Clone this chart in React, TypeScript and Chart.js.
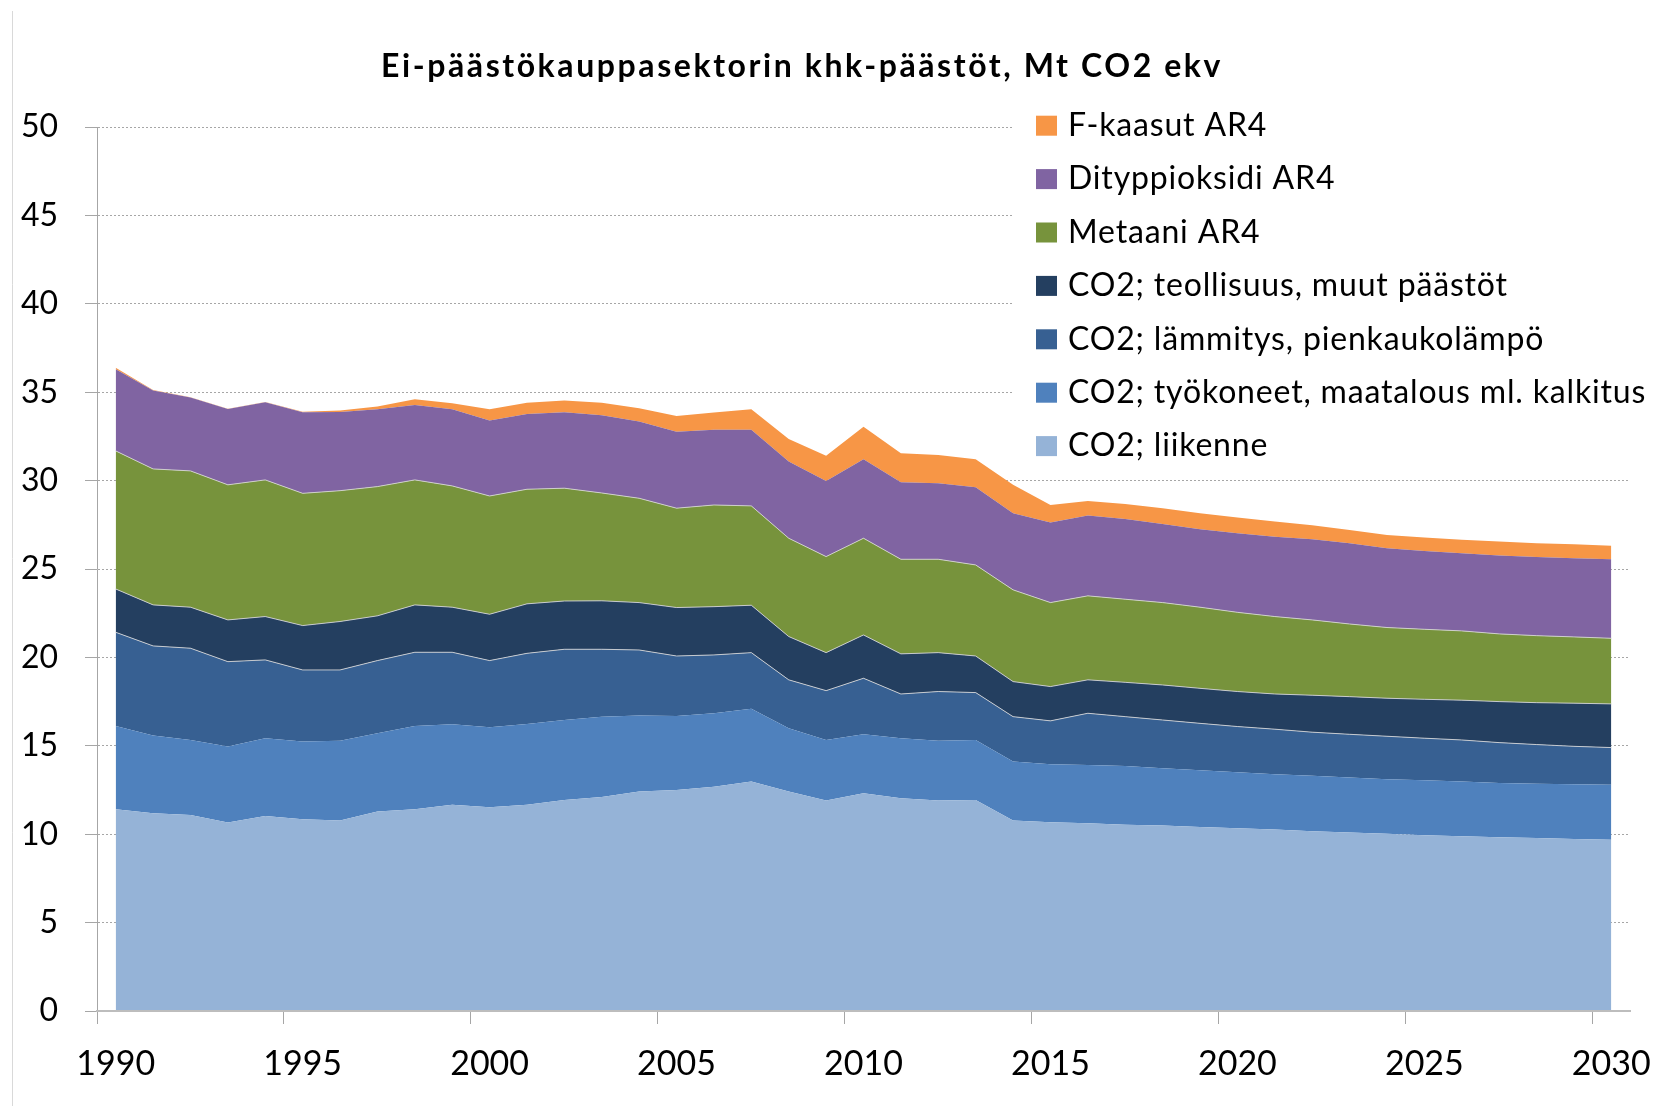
import React, { useEffect, useRef } from 'react';
import { Chart, registerables } from 'chart.js';

Chart.register(...registerables);

const TITLE = 'Ei-päästökauppasektorin khk-päästöt, Mt CO2 ekv';

const YEARS = [
  '1990', '1991', '1992', '1993', '1994', '1995', '1996', '1997', '1998', '1999',
  '2000', '2001', '2002', '2003', '2004', '2005', '2006', '2007', '2008', '2009',
  '2010', '2011', '2012', '2013', '2014', '2015', '2016', '2017', '2018', '2019',
  '2020', '2021', '2022', '2023', '2024', '2025', '2026', '2027', '2028', '2029', '2030',
];

const Y_MIN = 0;
const Y_MAX = 50;
const Y_STEP = 5;
const X_LABEL_EVERY = 5;

// Stacked series, bottom to top
const LIIKENNE = [
  11.41, 11.19, 11.09, 10.66, 11.03, 10.85, 10.77, 11.28, 11.41, 11.66,
  11.52, 11.66, 11.94, 12.11, 12.41, 12.5, 12.69, 12.98, 12.41, 11.9,
  12.32, 12.03, 11.9, 11.94, 10.77, 10.68, 10.62, 10.54, 10.49, 10.41,
  10.34, 10.26, 10.17, 10.09, 10.02, 9.94, 9.88, 9.83, 9.79, 9.73, 9.68,
];
const TYOKONEET = [
  4.71, 4.39, 4.24, 4.3, 4.4, 4.39, 4.51, 4.43, 4.71, 4.56,
  4.53, 4.58, 4.52, 4.54, 4.3, 4.19, 4.15, 4.11, 3.58, 3.43,
  3.33, 3.4, 3.38, 3.39, 3.34, 3.28, 3.3, 3.32, 3.24, 3.21,
  3.16, 3.13, 3.13, 3.11, 3.09, 3.11, 3.1, 3.07, 3.07, 3.1, 3.11,
];
const LAMMITYS = [
  5.3, 5.07, 5.19, 4.8, 4.43, 4.05, 4.01, 4.11, 4.17, 4.07,
  3.77, 3.99, 4.0, 3.81, 3.71, 3.39, 3.3, 3.18, 2.74, 2.79,
  3.17, 2.5, 2.79, 2.68, 2.54, 2.45, 2.92, 2.79, 2.73, 2.65,
  2.59, 2.55, 2.47, 2.45, 2.43, 2.38, 2.35, 2.28, 2.21, 2.14, 2.11,
];
const TEOLLISUUS = [
  2.45, 2.32, 2.32, 2.36, 2.45, 2.51, 2.74, 2.53, 2.68, 2.55,
  2.62, 2.8, 2.73, 2.74, 2.68, 2.74, 2.73, 2.68, 2.45, 2.15,
  2.45, 2.27, 2.2, 2.07, 1.98, 1.94, 1.89, 1.94, 1.98, 1.98,
  1.98, 1.99, 2.09, 2.13, 2.15, 2.2, 2.25, 2.32, 2.37, 2.44, 2.47,
];
const METAANI = [
  7.81, 7.69, 7.71, 7.64, 7.73, 7.48, 7.4, 7.31, 7.07, 6.86,
  6.69, 6.48, 6.38, 6.1, 5.9, 5.62, 5.75, 5.62, 5.56, 5.43,
  5.47, 5.35, 5.28, 5.15, 5.19, 4.75, 4.75, 4.7, 4.66, 4.59,
  4.48, 4.38, 4.26, 4.11, 4.0, 3.96, 3.92, 3.83, 3.79, 3.75, 3.71,
];
const DITYPPIOKSIDI = [
  4.62, 4.44, 4.15, 4.29, 4.39, 4.58, 4.45, 4.38, 4.24, 4.34,
  4.27, 4.26, 4.29, 4.4, 4.34, 4.33, 4.25, 4.3, 4.34, 4.28,
  4.47, 4.36, 4.3, 4.39, 4.33, 4.53, 4.54, 4.54, 4.45, 4.41,
  4.47, 4.52, 4.56, 4.57, 4.48, 4.43, 4.39, 4.43, 4.45, 4.45, 4.47,
];
const FKAASUT = [
  0.08, 0.03, 0.01, 0.02, 0.02, 0.04, 0.08, 0.15, 0.32, 0.33,
  0.64, 0.64, 0.67, 0.7, 0.75, 0.89, 0.98, 1.17, 1.27, 1.42,
  1.84, 1.64, 1.6, 1.59, 1.61, 0.99, 0.83, 0.85, 0.89, 0.9,
  0.89, 0.85, 0.79, 0.75, 0.76, 0.76, 0.77, 0.79, 0.78, 0.79, 0.77,
];

const SERIES_LABELS = [
  'CO2; liikenne',
  'CO2; työkoneet, maatalous ml. kalkitus',
  'CO2; lämmitys, pienkaukolämpö',
  'CO2; teollisuus, muut päästöt',
  'Metaani AR4',
  'Dityppioksidi AR4',
  'F-kaasut AR4',
];
const SERIES_VALUES = [LIIKENNE, TYOKONEET, LAMMITYS, TEOLLISUUS, METAANI, DITYPPIOKSIDI, FKAASUT];
const SERIES_COLORS = ['#95B3D7', '#4F81BD', '#376092', '#243F60', '#77933C', '#8064A2', '#F79646'];
const SERIES_EDGE = [false, false, true, true, true, false, false];

const decorPlugin = {
  id: 'decor',
  afterDraw(chart: any) {
    const ctx: CanvasRenderingContext2D = chart.ctx;
    ctx.save();
    // outer frame line on the left
    ctx.strokeStyle = '#d9d9d9';
    ctx.lineWidth = 1;
    ctx.beginPath();
    ctx.moveTo(12.5, 11);
    ctx.lineTo(12.5, 1106);
    ctx.stroke();

    // legend box
    ctx.fillStyle = '#ffffff';
    ctx.fillRect(1013, 98, 644, 372);
    const items = chart.data.datasets
      .map((ds: any) => ({ label: ds.label as string, color: ds.backgroundColor as string }))
      .reverse();
    ctx.font = '32px Lato';
    (ctx as any).letterSpacing = '0px';
    let longest = items[0];
    let longestW = 0;
    items.forEach((it: any) => {
      const w = ctx.measureText(it.label).width;
      if (w > longestW) {
        longestW = w;
        longest = it;
      }
    });
    const ls = (578 - longestW) / longest.label.length;
    (ctx as any).letterSpacing = ls.toFixed(2) + 'px';
    ctx.textAlign = 'left';
    ctx.textBaseline = 'alphabetic';
    items.forEach((it: any, i: number) => {
      const top = 115.7 + 53.4 * i;
      ctx.fillStyle = it.color;
      ctx.fillRect(1036, top, 21, 20);
      ctx.fillStyle = '#000000';
      ctx.fillText(it.label, 1068, top + 20.3);
    });

    // title
    ctx.font = 'bold 32px Lato';
    (ctx as any).letterSpacing = '0px';
    const tw = ctx.measureText(TITLE).width;
    const tls = (842 - tw) / TITLE.length;
    (ctx as any).letterSpacing = tls.toFixed(2) + 'px';
    ctx.fillStyle = '#000000';
    ctx.fillText(TITLE, 381, 77);
    ctx.restore();
  },
};

export default function App() {
  const ref = useRef<HTMLCanvasElement>(null);

  useEffect(() => {
    const canvas = ref.current;
    if (!canvas) return;
    Chart.defaults.font.family = 'Lato';

    const datasets = SERIES_VALUES.map((vals, i) => ({
      label: SERIES_LABELS[i],
      data: vals,
      backgroundColor: SERIES_COLORS[i],
      borderColor: SERIES_EDGE[i] ? 'rgba(215,215,215,0.85)' : 'rgba(0,0,0,0)',
      borderWidth: SERIES_EDGE[i] ? 1 : 0,
      fill: i === 0 ? 'origin' : '-1',
      pointRadius: 0,
      tension: 0,
    }));

    const chart = new Chart(canvas, {
      type: 'line',
      data: { labels: YEARS, datasets },
      options: {
        responsive: false,
        maintainAspectRatio: false,
        animation: false,
        layout: { padding: { left: 0, right: 27, top: 127, bottom: 0 } },
        plugins: {
          legend: { display: false },
          title: { display: false },
          tooltip: { enabled: false },
        },
        elements: { point: { radius: 0 }, line: { tension: 0 } },
        scales: {
          x: {
            type: 'category',
            offset: true,
            grid: {
              display: true,
              drawOnChartArea: false,
              drawTicks: true,
              tickLength: 13,
              offset: true,
              lineWidth: 1,
              color: '#a6a6a6',
              tickColor: (c: any) =>
                typeof c.index === 'number' && c.index % X_LABEL_EVERY === 0 ? '#a6a6a6' : 'rgba(0,0,0,0)',
            },
            border: { display: true, color: '#bdbdbd', width: 2, z: 1 },
            ticks: {
              autoSkip: false,
              maxRotation: 0,
              minRotation: 0,
              padding: 20,
              color: '#000000',
              font: { family: 'Lato', size: 34 },
              callback: (_v: any, index: number) =>
                Number(YEARS[index]) % X_LABEL_EVERY === 0 ? YEARS[index] : '',
            },
            afterFit: (scale: any) => {
              scale.height = 95;
              scale.paddingLeft = 0;
              scale.paddingRight = 0;
            },
          },
          y: {
            stacked: true,
            min: Y_MIN,
            max: Y_MAX,
            ticks: {
              stepSize: Y_STEP,
              padding: 27,
              color: '#000000',
              font: { family: 'Lato', size: 32 },
            },
            grid: {
              color: '#a6a6a6',
              lineWidth: 1,
              drawTicks: true,
              tickLength: 12,
              tickColor: '#a6a6a6',
              tickBorderDash: [],
            },
            border: { display: true, color: '#a6a6a6', width: 1, dash: [2, 2] },
            afterFit: (scale: any) => {
              scale.width = 97;
            },
          },
        },
      } as any,
      plugins: [decorPlugin],
    });

    let alive = true;
    if ((document as any).fonts && (document as any).fonts.load) {
      Promise.all([
        (document as any).fonts.load('32px Lato'),
        (document as any).fonts.load('bold 32px Lato'),
      ])
        .then(() => {
          if (alive) chart.update();
        })
        .catch(() => {});
    }

    return () => {
      alive = false;
      chart.destroy();
    };
  }, []);

  return (
    <div style={{ position: 'fixed', left: 0, top: 0, width: 1657, height: 1106, background: '#ffffff' }}>
      <canvas ref={ref} width={1657} height={1106} style={{ display: 'block' }} />
    </div>
  );
}
